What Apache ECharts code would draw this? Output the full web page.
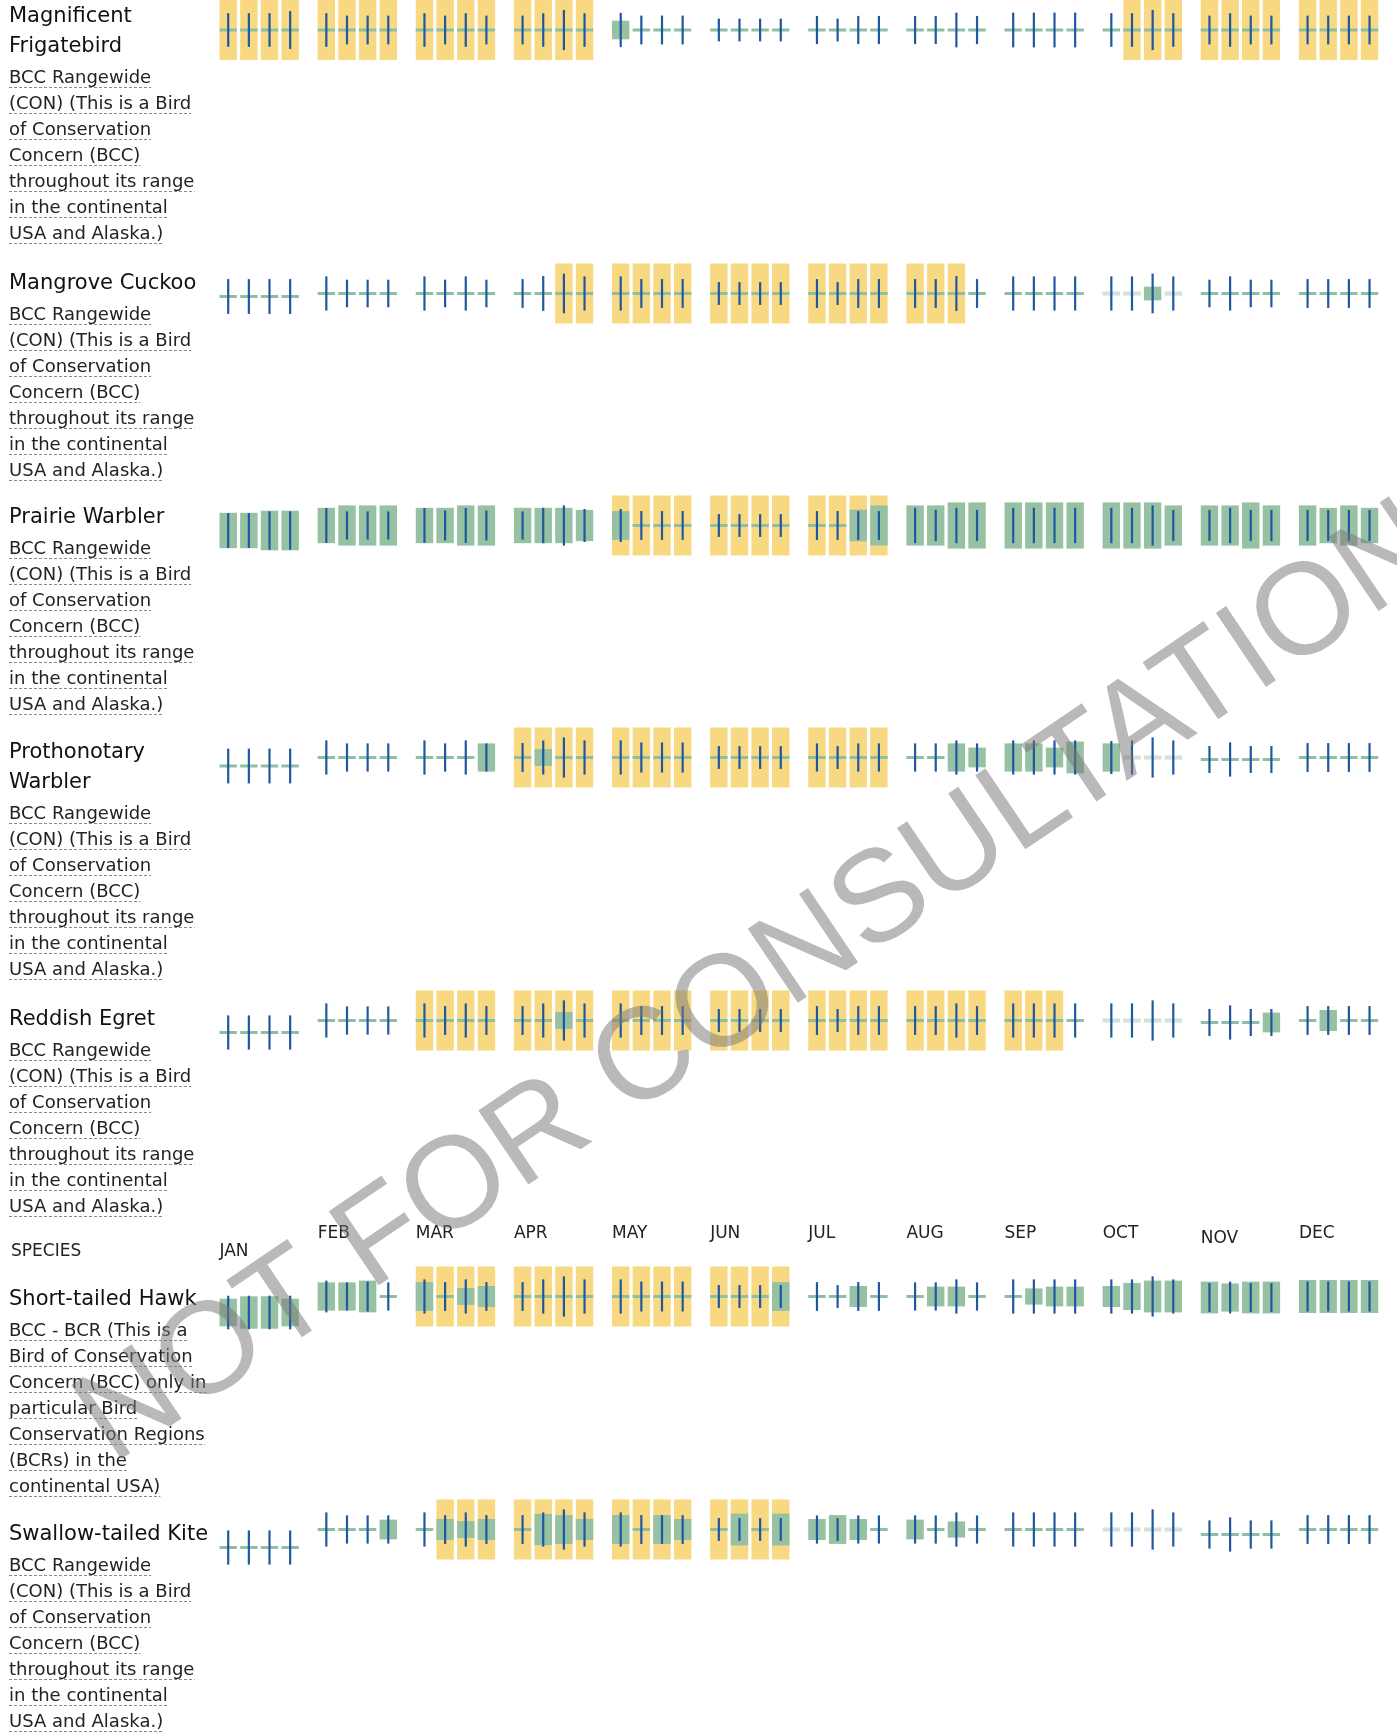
<!DOCTYPE html>
<html><head><meta charset="utf-8">
<script src="https://cdn.jsdelivr.net/npm/echarts@6/dist/echarts.min.js"></script>
<style>html,body{margin:0;padding:0;background:#fff}#c{width:1397px;height:1733px}</style>
</head><body><div id="c"></div>
<script>
// ---------------- DATA ----------------
const MONTHS = ['JAN','FEB','MAR','APR','MAY','JUN','JUL','AUG','SEP','OCT','NOV','DEC'];
const HEADER_LABEL = 'SPECIES';
const WATERMARK = 'NOT FOR CONSULTATION';

const speciesNames = [
  ['Magnificent', 'Frigatebird'],
  ['Mangrove Cuckoo'],
  ['Prairie Warbler'],
  ['Prothonotary', 'Warbler'],
  ['Reddish Egret'],
  ['Short-tailed Hawk'],
  ['Swallow-tailed Kite']
];
const noteRangewide = ['BCC Rangewide', '(CON) (This is a Bird', 'of Conservation', 'Concern (BCC)',
  'throughout its range', 'in the continental', 'USA and Alaska.)'];
const noteBCR = ['BCC - BCR (This is a', 'Bird of Conservation', 'Concern (BCC) only in',
  'particular Bird', 'Conservation Regions', '(BCRs) in the', 'continental USA)'];
const speciesNotes = [noteRangewide, noteRangewide, noteRangewide, noteRangewide, noteRangewide, noteBCR, noteRangewide];

// breeding season (1 = yes), 4 weeks per month
const frigatebirdBreeding = [[1,1,1,1],[1,1,1,1],[1,1,1,1],[1,1,1,1],[0,0,0,0],[0,0,0,0],[0,0,0,0],[0,0,0,0],[0,0,0,0],[0,1,1,1],[1,1,1,1],[1,1,1,1]];
// probability of presence (bar height, 0-10); null = no data
const frigatebirdPresence = [[.5,.5,.5,.5],[.5,.5,.5,.5],[.5,.5,.5,.5],[.5,.5,.5,.5],[3.1,.5,.5,.5],[.5,.5,.5,.5],[.5,.5,.5,.5],[.5,.5,.5,.5],[.5,.5,.5,.5],[.5,.5,.5,.5],[.5,.5,.5,.5],[.5,.5,.5,.5]];
// survey effort (line length, 0-10)
const frigatebirdEffort = [[5.6,5.6,5.6,6.3],[5.6,4.8,4.8,4.8],[5.6,4.8,5.6,4.8],[4.8,5.6,6.7,5.6],[5.7,4.8,4.8,4.8],[3.8,3.8,3.8,3.8],[4.7,3.8,4.7,4.7],[4.7,4.7,5.8,4.7],[5.8,5.8,5.8,5.8],[5.6,5.6,6.7,5.6],[4.8,5.6,4.8,4.8],[4.8,4.8,4.8,4.8]];

const cuckooBreeding = [[0,0,0,0],[0,0,0,0],[0,0,0,0],[0,0,1,1],[1,1,1,1],[1,1,1,1],[1,1,1,1],[1,1,1,0],[0,0,0,0],[0,0,0,0],[0,0,0,0],[0,0,0,0]];
const cuckooPresence = [[.5,.5,.5,.5],[.5,.5,.5,.5],[.5,.5,.5,.5],[.5,.5,.5,.5],[.5,.5,.5,.5],[.5,.5,.5,.5],[.5,.5,.5,.5],[.5,.5,.5,.5],[.5,.5,.5,.5],[null,null,2.3,null],[.5,.5,.5,.5],[.5,.5,.5,.5]];
const cuckooEffort = [[5.8,5.8,5.8,5.8],[5.7,4.6,4.6,4.6],[5.7,4.6,5.7,4.6],[4.8,5.8,6.6,5.7],[5.7,4.8,4.8,4.8],[3.8,3.8,3.8,3.8],[4.8,3.8,4.8,4.8],[4.8,4.8,5.8,4.8],[5.7,5.7,5.7,5.7],[5.7,5.7,6.6,5.7],[4.6,5.7,4.6,4.6],[4.8,4.8,4.8,4.8]];

const prairieBreeding = [[0,0,0,0],[0,0,0,0],[0,0,0,0],[0,0,0,0],[1,1,1,1],[1,1,1,1],[1,1,1,1],[0,0,0,0],[0,0,0,0],[0,0,0,0],[0,0,0,0],[0,0,0,0]];
const prairiePresence = [[5.9,5.9,6.6,6.6],[5.9,6.7,6.7,6.7],[5.9,5.9,6.7,6.7],[5.9,5.9,5.9,5.2],[4.8,.5,.5,.5],[.5,.5,.5,.5],[.5,.5,5.3,6.7],[6.7,6.7,7.7,7.7],[7.7,7.7,7.7,7.7],[7.7,7.7,7.7,6.7],[6.7,6.7,7.7,6.7],[6.7,5.9,6.7,5.9]];
const prairieEffort = [[5.8,5.8,6.4,6.4],[5.8,4.7,4.7,4.7],[5.8,5.0,5.8,5.0],[4.7,5.9,6.7,5.5],[5.5,4.8,4.8,4.8],[3.8,3.8,3.8,3.8],[4.8,4.8,4.8,4.8],[5.9,5.2,5.9,5.2],[5.9,5.9,5.9,5.9],[5.9,5.9,6.7,5.2],[5.2,5.9,5.2,5.2],[5.2,5.2,5.2,5.2]];

const prothonotaryBreeding = [[0,0,0,0],[0,0,0,0],[0,0,0,0],[1,1,1,1],[1,1,1,1],[1,1,1,1],[1,1,1,1],[0,0,0,0],[0,0,0,0],[0,0,0,0],[0,0,0,0],[0,0,0,0]];
const prothonotaryPresence = [[.5,.5,.5,.5],[.5,.5,.5,.5],[.5,.5,.5,4.7],[.5,2.8,.5,.5],[.5,.5,.5,.5],[.5,.5,.5,.5],[.5,.5,.5,.5],[.5,.5,4.7,3.3],[4.7,4.7,3.3,5.3],[4.7,null,null,null],[.5,.5,.5,.5],[.5,.5,.5,.5]];
const prothonotaryEffort = [[5.8,5.8,5.8,5.8],[5.7,4.7,4.7,4.7],[5.7,4.7,5.7,4.7],[4.8,5.7,6.7,5.7],[5.7,5.0,5.0,5.0],[3.8,3.8,3.8,3.8],[4.7,3.8,4.7,4.7],[4.7,4.7,5.7,4.7],[5.7,5.7,5.7,5.7],[5.5,5.7,6.7,5.7],[4.5,5.7,4.5,4.5],[4.8,4.8,4.8,4.8]];

const egretBreeding = [[0,0,0,0],[0,0,0,0],[1,1,1,1],[1,1,1,1],[1,1,1,1],[1,1,1,1],[1,1,1,1],[1,1,1,1],[1,1,1,0],[0,0,0,0],[0,0,0,0],[0,0,0,0]];
const egretPresence = [[.5,.5,.5,.5],[.5,.5,.5,.5],[.5,.5,.5,.5],[.5,.5,2.8,.5],[.5,.5,.5,.5],[.5,.5,.5,.5],[.5,.5,.5,.5],[.5,.5,.5,.5],[.5,.5,.5,.5],[null,null,null,null],[.5,.5,.5,3.3],[.5,3.5,.5,.5]];
const egretEffort = [[5.7,5.7,5.7,5.7],[5.7,4.7,4.7,4.7],[5.7,4.8,5.7,4.8],[4.8,5.7,6.7,5.7],[5.7,4.8,4.8,4.8],[3.8,3.8,3.8,3.8],[4.8,3.8,4.8,4.8],[4.8,4.8,5.7,4.8],[5.7,5.7,5.7,5.7],[5.7,5.7,6.7,5.7],[4.5,5.7,4.5,4.5],[4.8,4.8,4.8,4.8]];

const hawkBreeding = [[0,0,0,0],[0,0,0,0],[1,1,1,1],[1,1,1,1],[1,1,1,1],[1,1,1,1],[0,0,0,0],[0,0,0,0],[0,0,0,0],[0,0,0,0],[0,0,0,0],[0,0,0,0]];
const hawkPresence = [[4.6,5.4,5.4,4.6],[4.7,4.7,5.3,.5],[4.8,.5,2.8,3.5],[.5,.5,.5,.5],[.5,.5,.5,.5],[.5,.5,.5,4.8],[.5,.5,3.5,.5],[.5,3.3,3.3,.5],[.5,2.7,3.3,3.3],[3.5,4.5,5.3,5.3],[5.3,4.7,5.3,5.3],[5.5,5.5,5.5,5.5]];
const hawkEffort = [[5.6,5.6,5.6,5.6],[5.3,4.7,5.0,4.7],[5.7,4.8,5.7,4.8],[4.8,5.7,6.7,5.7],[5.7,5.0,5.0,5.0],[3.8,3.8,3.8,3.8],[4.8,3.8,4.8,4.8],[4.7,4.7,5.7,4.7],[5.7,5.7,5.7,5.7],[5.7,5.7,6.7,5.7],[4.8,5.3,4.8,4.8],[5.0,5.0,5.0,5.0]];

const kiteBreeding = [[0,0,0,0],[0,0,0,0],[0,1,1,1],[1,1,1,1],[1,1,1,1],[1,1,1,1],[0,0,0,0],[0,0,0,0],[0,0,0,0],[0,0,0,0],[0,0,0,0],[0,0,0,0]];
const kitePresence = [[.5,.5,.5,.5],[.5,.5,.5,3.3],[.5,3.5,2.8,3.5],[.5,5.2,4.8,3.5],[4.8,.5,4.8,3.5],[.5,5.3,.5,5.3],[3.5,4.8,3.5,.5],[3.3,.5,2.7,.5],[.5,.5,.5,.5],[null,null,null,null],[.5,.5,.5,.5],[.5,.5,.5,.5]];
const kiteEffort = [[5.7,5.7,5.7,5.7],[5.7,4.7,4.7,4.7],[5.7,4.8,5.7,4.8],[4.8,5.7,6.7,5.7],[5.7,4.8,4.8,4.8],[3.8,3.8,3.8,3.8],[4.7,3.8,4.7,4.7],[4.7,4.7,5.7,4.7],[5.7,5.7,5.7,5.7],[5.7,5.7,6.7,5.7],[4.7,5.7,4.7,4.7],[4.8,4.8,4.8,4.8]];

const speciesBreeding = [frigatebirdBreeding, cuckooBreeding, prairieBreeding, prothonotaryBreeding, egretBreeding, hawkBreeding, kiteBreeding];
const speciesPresence = [frigatebirdPresence, cuckooPresence, prairiePresence, prothonotaryPresence, egretPresence, hawkPresence, kitePresence];
const speciesEffort = [frigatebirdEffort, cuckooEffort, prairieEffort, prothonotaryEffort, egretEffort, hawkEffort, kiteEffort];

// ---------------- LAYOUT / STYLE ----------------
const GRID_LEFT = 219.5, MONTH_PX = 98.6, WEEK_PX = 20.75, BOX_PX = 17.5, ROW_H = 60;
const Y_HALF = 5;
const TITLE_Y = [17, 284, 518, 753, 1020, 1300, 1535];
const ROW_Y = [30, 293.5, 525.5, 757.5, 1020.5, 1296.5, 1529.5];
const JAN_DROP = [0, 3, 5, 8.5, 12, 16, 18];
const NOV_DROP = [0, 0, 0, 2, 2, 1, 5];
const HEADER_Y = 1234, HEADER_JAN_Y = 1252, HEADER_NOV_Y = 1238.5;
const C_YELLOW = '#f8d982', C_GREEN = '#96c1a3', C_THIN = '#8fbfa2', C_PALE = '#d4e2d8', C_BLUE = '#1f57a0';
const LINE_W = 2.2;
const TITLE_FONT = '21px "DejaVu Sans"', NOTE_FONT = '18px "DejaVu Sans"', HEAD_FONT = '17px "DejaVu Sans"';

const chart = echarts.init(document.getElementById('c'), null, {renderer: 'canvas'});

function weekX(m, w) { return m + (w * WEEK_PX + BOX_PX / 2) / MONTH_PX; }

function makeRender(row) {
  return function (params, api) {
    const x = api.value(0), p = api.value(1), e = api.value(2), b = api.value(3), m = api.value(4);
    const drop = m === 0 ? JAN_DROP[row] : (m === 10 ? NOV_DROP[row] : 0);
    const c = api.coord([x, 0]);
    const cx = c[0], cy = c[1] + drop;
    const bw = api.size([BOX_PX / MONTH_PX, 0])[0];
    const kids = [];
    if (b) {
      const h = api.size([0, 2 * Y_HALF])[1];
      kids.push({type: 'rect', shape: {x: cx - bw / 2, y: cy - h / 2, width: bw, height: h}, style: {fill: C_YELLOW}});
    }
    if (p < 0) {
      const h = api.size([0, 0.7])[1];
      kids.push({type: 'rect', shape: {x: cx - bw / 2, y: cy - h / 2, width: bw, height: h}, style: {fill: C_PALE}});
    } else {
      const h = api.size([0, p])[1];
      kids.push({type: 'rect', shape: {x: cx - bw / 2, y: cy - h / 2, width: bw, height: h}, style: {fill: p <= 0.6 ? C_THIN : C_GREEN}});
    }
    const eh = api.size([0, e])[1];
    kids.push({type: 'rect', shape: {x: cx - LINE_W / 2, y: cy - eh / 2, width: LINE_W, height: eh}, style: {fill: C_BLUE}});
    return {type: 'group', children: kids};
  };
}

const grids = [], xAxes = [], yAxes = [], series = [];
for (let r = 0; r < speciesNames.length; r++) {
  grids.push({left: GRID_LEFT, top: ROW_Y[r] - ROW_H / 2, width: 12 * MONTH_PX, height: ROW_H});
  xAxes.push({type: 'value', gridIndex: r, min: 0, max: 12, show: false});
  yAxes.push({type: 'value', gridIndex: r, min: -Y_HALF, max: Y_HALF, show: false});
  const data = [];
  for (let m = 0; m < 12; m++) for (let w = 0; w < 4; w++) {
    const pv = speciesPresence[r][m][w];
    data.push([weekX(m, w), pv === null ? -1 : pv, speciesEffort[r][m][w], speciesBreeding[r][m][w], m]);
  }
  series.push({type: 'custom', xAxisIndex: r, yAxisIndex: r, renderItem: makeRender(r), data: data, silent: true, animation: false, clip: false});
}

chart.setOption({animation: false, grid: grids, xAxis: xAxes, yAxis: yAxes, series: series});

// ---------------- TEXT ----------------
const ctx = document.createElement('canvas').getContext('2d');
function textWidth(t, font) { ctx.font = font; return ctx.measureText(t).width; }

const g = [];
for (let r = 0; r < speciesNames.length; r++) {
  let y = TITLE_Y[r];
  speciesNames[r].forEach((t, i) => {
    if (i > 0) y += 30;
    g.push({type: 'text', x: 9, y: y, style: {text: t, font: TITLE_FONT, fill: '#111', align: 'left', verticalAlign: 'middle', textAlign: 'left', textVerticalAlign: 'middle'}});
  });
  y += 31;
  speciesNotes[r].forEach((t, i) => {
    if (i > 0) y += 26;
    g.push({type: 'text', x: 9, y: y, style: {text: t, font: NOTE_FONT, fill: '#222', align: 'left', verticalAlign: 'middle', textAlign: 'left', textVerticalAlign: 'middle'}});
    const uy = Math.round(y + 9) + 0.5;
    g.push({type: 'line', shape: {x1: 9, y1: uy, x2: 9 + textWidth(t, NOTE_FONT), y2: uy}, style: {stroke: '#8a8a8a', lineWidth: 1, lineDash: [3, 2]}});
  });
}
g.push({type: 'text', x: 11, y: HEADER_JAN_Y, style: {text: HEADER_LABEL, font: HEAD_FONT, fill: '#222', align: 'left', verticalAlign: 'middle', textAlign: 'left', textVerticalAlign: 'middle'}});
MONTHS.forEach((mn, m) => {
  const px = chart.convertToPixel({gridIndex: 5}, [m, 0])[0];
  const y = m === 0 ? HEADER_JAN_Y : (m === 10 ? HEADER_NOV_Y : HEADER_Y);
  g.push({type: 'text', x: px, y: y, style: {text: mn, font: HEAD_FONT, fill: '#222', align: 'left', verticalAlign: 'middle', textAlign: 'left', textVerticalAlign: 'middle'}});
});
// watermark
g.push({type: 'text', x: 760, y: 985, rotation: 34 * Math.PI / 180, z: 100,
  style: {text: WATERMARK, font: '130px "Liberation Sans"', fill: 'rgba(120,120,120,0.52)',
    align: 'center', verticalAlign: 'middle', textAlign: 'center', textVerticalAlign: 'middle',
    shadowBlur: 12, shadowColor: 'rgba(120,120,120,0.6)'}});

chart.setOption({graphic: {elements: g}});
</script></body></html>
